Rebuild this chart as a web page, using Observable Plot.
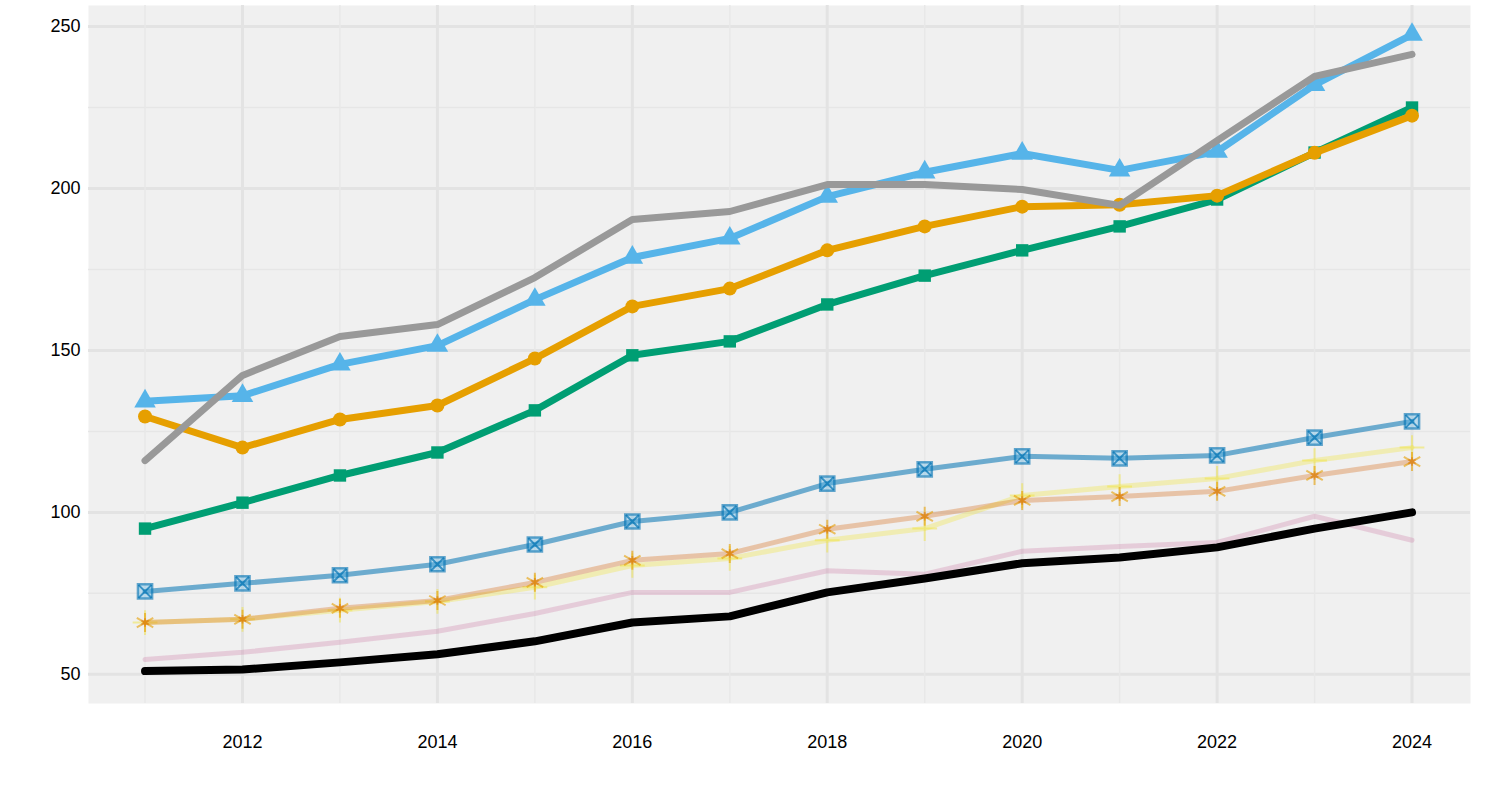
<!DOCTYPE html>
<html><head><meta charset="utf-8">
<script src="https://cdn.jsdelivr.net/npm/d3@7"></script>
<script src="https://cdn.jsdelivr.net/npm/@observablehq/plot@0.6"></script>
<style>body{margin:0;background:#fff;font-family:"Liberation Sans",Arial,sans-serif}</style>
</head><body><div id="chart"></div>
<script>
const years = d3.range(2011, 2025);
const skyTri = [134.3,136,145.7,151.5,165.7,178.7,184.6,197.5,205,210.8,205.6,211.4,232,247.5];
const grey = [116,142.3,154.3,158,172.5,190.4,192.9,201.2,201.2,199.7,194.8,214.8,234.6,241.4];
const orangeCirc = [129.6,120,128.7,133,147.5,163.6,169.1,180.9,188.3,194.4,195,197.8,211,222.5];
const greenSq = [95,103,111.4,118.5,131.5,148.5,152.8,164.2,173.1,180.9,188.3,196.6,211.1,225];
const blueSqX = [75.6,78.1,80.6,84,90.1,97.2,100,108.9,113.3,117.3,116.7,117.6,123.1,128.1];
const vermAst = [66,67,70.4,72.8,78.4,85.2,87.3,94.8,98.8,103.7,104.9,106.5,111.4,115.7];
const yellowPlus = [66,67,69.8,72.5,76.9,83.6,85.8,91.4,95,105.2,108,110.5,116,120];
const pink = [54.6,56.8,59.9,63.3,68.8,75.3,75.3,82,80.9,88,89.5,90.7,98.8,91.4];
const black = [51,51.5,53.7,56.2,60.2,66,67.9,75.3,79.6,84.3,86.1,89.2,95,100];
const yTicks = [50,100,150,200,250];
const yMinor = [75,125,175,225];
const xTicks = [2012,2014,2016,2018,2020,2022,2024];

const d = v => years.map((x,i)=>({x, y:v[i]}));
const line = (v, stroke, sw, op=1) => Plot.line(d(v), {x:"x", y:"y", stroke, strokeWidth:sw, strokeOpacity:op});
const dot = (v, symbol, opts) => Plot.dot(d(v), {x:"x", y:"y", symbol, ...opts});

const chart = Plot.plot({
  width:1488, height:790, marginLeft:88, marginRight:18, marginTop:5, marginBottom:87,
  style:{fontFamily:"Liberation Sans, Arial, sans-serif", fontSize:"18px", color:"#000"},
  x:{domain:[2010.42,2024.6], ticks:xTicks, tickFormat:d=>String(d), tickSize:0, label:null, tickPadding:32},
  y:{domain:[41,256.5], ticks:yTicks, tickSize:0, label:null, tickPadding:8},
  marks:[
    Plot.frame({fill:"#f0f0f0", stroke:null}),
    Plot.ruleY(yMinor, {stroke:"#e6e6e6", strokeWidth:1.5}),
    Plot.ruleY(yTicks, {stroke:"#e3e3e3", strokeWidth:3}),
    Plot.ruleX(xTicks, {stroke:"#e3e3e3", strokeWidth:3}),
    Plot.ruleX(years.filter(y=>y%2), {stroke:"#e8e8e8", strokeWidth:1.5}),
    line(pink, "#CC79A7", 5, 0.3),
    line(yellowPlus, "#F0E442", 5, 0.35),
    dot(yellowPlus, "plus", {stroke:"#F0E442", strokeOpacity:0.5, r:8, strokeWidth:2}),
    line(vermAst, "#D55E00", 5, 0.3),
    dot(vermAst, "asterisk", {stroke:"#E69F00", strokeOpacity:0.6, r:9, strokeWidth:2}),
    dot(vermAst, "asterisk", {stroke:"#D55E00", strokeOpacity:0.4, r:4, strokeWidth:2}),
    line(blueSqX, "#0072B2", 5, 0.55),
    dot(blueSqX, "square", {stroke:"#0072B2", strokeOpacity:0.6, fill:"#56B4E9", fillOpacity:0.35, r:8, strokeWidth:2.5}),
    dot(blueSqX, "times", {stroke:"#0072B2", strokeOpacity:0.7, r:6, strokeWidth:2}),
    line(black, "#000", 8),
    line(greenSq, "#009E73", 7),
    dot(greenSq, "square", {fill:"#009E73", r:7}),
    line(orangeCirc, "#E69F00", 7),
    dot(orangeCirc, "circle", {fill:"#E69F00", r:7}),
    line(skyTri, "#56B4E9", 7),
    dot(skyTri, "triangle", {fill:"#56B4E9", r:8}),
    line(grey, "#999999", 7)
  ]
});
document.getElementById("chart").append(chart);
</script></body></html>
